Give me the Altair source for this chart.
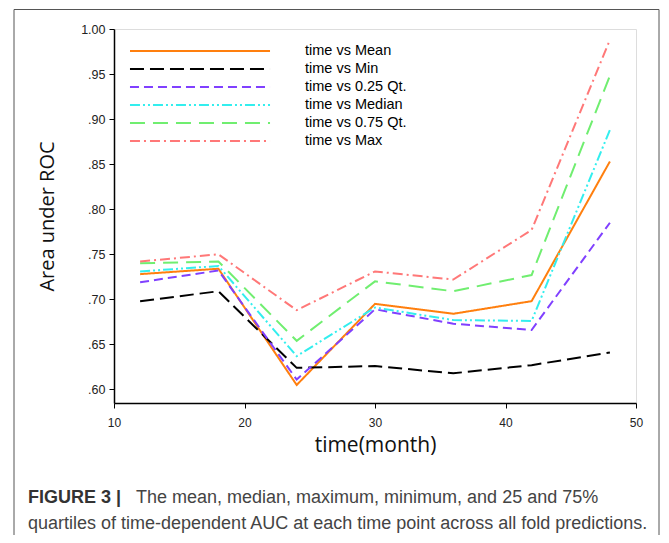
import altair as alt
import pandas as pd

months = [12, 18, 24, 30, 36, 42, 48]
series_names = ["time vs Mean", "time vs Min", "time vs 0.25 Qt.",
                "time vs Median", "time vs 0.75 Qt.", "time vs Max"]
auc_mean = [0.728, 0.734, 0.605, 0.695, 0.684, 0.698, 0.853]
auc_min = [0.698, 0.709, 0.624, 0.626, 0.618, 0.627, 0.641]
auc_q25 = [0.719, 0.732, 0.611, 0.689, 0.673, 0.666, 0.785]
auc_median = [0.731, 0.737, 0.637, 0.691, 0.677, 0.676, 0.888]
auc_q75 = [0.740, 0.742, 0.654, 0.720, 0.709, 0.727, 0.948]
auc_max = [0.742, 0.750, 0.688, 0.731, 0.722, 0.777, 0.988]

y_ticks = [0.60, 0.65, 0.70, 0.75, 0.80, 0.85, 0.90, 0.95, 1.00]
x_ticks = [10, 20, 30, 40, 50]

caption_bold = "FIGURE 3 |"
caption_line1 = "The mean, median, maximum, minimum, and 25 and 75%"
caption_line2 = "quartiles of time-dependent AUC at each time point across all fold predictions."

colors = ["#ff7f0e", "#000000", "#8040ff", "#33eeee", "#70ee70", "#ff7878"]
dashes = [[1, 0], [14, 6], [9, 5], [10, 3, 2, 3, 2, 3], [15, 8], [10, 4, 2, 4]]

all_series = [auc_mean, auc_min, auc_q25, auc_median, auc_q75, auc_max]
rows = []
for name, vals in zip(series_names, all_series):
    for m, v in zip(months, vals):
        rows.append({"month": m, "auc": v, "series": name})
df = pd.DataFrame(rows)

lines = alt.Chart(df).mark_line(strokeWidth=2).encode(
    x=alt.X("month:Q", scale=alt.Scale(domain=[10, 50], nice=False),
            axis=alt.Axis(values=x_ticks, title="time(month)", grid=False,
                          labelFontSize=12, labelFont="Liberation Sans",
                          labelColor="#222", tickSize=5, tickColor="#000",
                          domainColor="#000", domainWidth=1.5, labelPadding=9,
                          labelFlush=False,
                          titleFont="Open Sans", titleFontSize=21,
                          titleFontWeight="normal", titleColor="#111",
                          titlePadding=6)),
    y=alt.Y("auc:Q", scale=alt.Scale(domain=[0.585, 1.0], nice=False, zero=False),
            axis=alt.Axis(values=y_ticks, title="Area under ROC", grid=False,
                          labelExpr="datum.value >= 0.999 ? '1.00' : substring(format(datum.value, '.2f'), 1)",
                          labelFontSize=12.5, labelFont="Liberation Sans",
                          labelColor="#222", tickSize=5, tickColor="#000",
                          domainColor="#000", domainWidth=1.5, labelPadding=4,
                          labelFlush=False,
                          titleFont="Open Sans", titleFontSize=20,
                          titleFontWeight="normal", titleColor="#111",
                          titlePadding=23)),
    color=alt.Color("series:N", scale=alt.Scale(domain=series_names, range=colors),
                    sort=series_names,
                    legend=alt.Legend(title=None, orient="none", legendX=76, legendY=12,
                                      symbolType="M-7.78,0L7.78,0", symbolSize=324,
                                      symbolStrokeWidth=2, labelFont="Liberation Sans",
                                      labelFontSize=14.5, labelColor="#000",
                                      labelOffset=95, rowPadding=1, padding=0)),
    strokeDash=alt.StrokeDash("series:N", scale=alt.Scale(domain=series_names, range=dashes),
                              sort=series_names, legend=None),
)

frame = alt.Chart(alt.Data(values=[{"k": 1}])).mark_rect(
    filled=False, stroke="#555", strokeWidth=1
).encode(x=alt.value(-100), x2=alt.value(545), y=alt.value(-19.5), y2=alt.value(700))

cap_font = "Liberation Sans"
cap_bold = alt.Chart(alt.Data(values=[{"t": caption_bold}])).mark_text(
    align="left", baseline="middle", fontSize=18, fontWeight="bold",
    font=cap_font, color="#333"
).encode(text="t:N", x=alt.value(-86), y=alt.value(469))

cap1 = alt.Chart(alt.Data(values=[{"t": caption_line1}])).mark_text(
    align="left", baseline="middle", fontSize=18,
    font=cap_font, color="#444"
).encode(text="t:N", x=alt.value(22), y=alt.value(469))

cap2 = alt.Chart(alt.Data(values=[{"t": caption_line2}])).mark_text(
    align="left", baseline="middle", fontSize=18,
    font=cap_font, color="#444"
).encode(text="t:N", x=alt.value(-86), y=alt.value(495))

chart = alt.layer(lines, frame, cap_bold, cap1, cap2).properties(
    width=522, height=374,
    padding={"left": 106, "top": 21, "right": 25, "bottom": 132},
    autosize=alt.AutoSizeParams(type="none"),
).configure_view(stroke="#000", strokeWidth=1.5).configure(background="white")

chart.save("out.html", embed_options={"renderer": "svg", "actions": False})
